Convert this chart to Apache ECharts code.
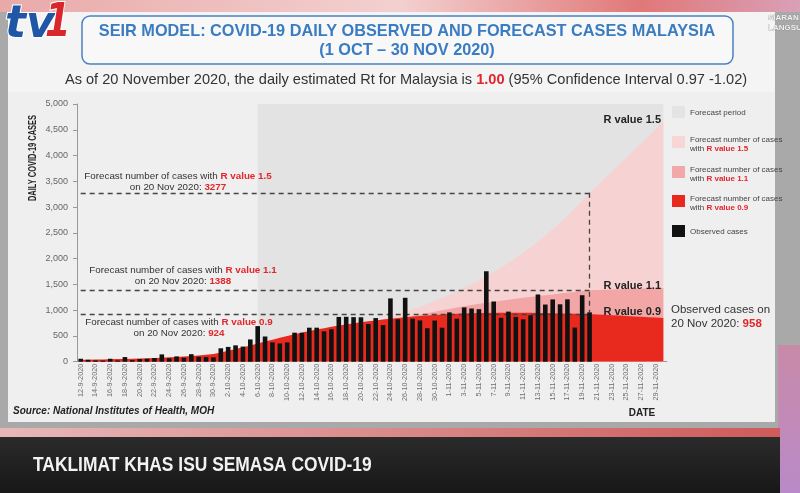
<!DOCTYPE html>
<html><head><meta charset="utf-8">
<script src="https://cdn.jsdelivr.net/npm/echarts@6/dist/echarts.min.js"></script>
<style>html,body{margin:0;padding:0;background:#fff}#c{width:800px;height:493px}</style>
</head><body><div id="c"></div>
<script>
// ---- categories (tick labels) ----
const dates = ['12-9-2020','13-9-2020','14-9-2020','15-9-2020','16-9-2020','17-9-2020','18-9-2020','19-9-2020','20-9-2020','21-9-2020','22-9-2020','23-9-2020','24-9-2020','25-9-2020','26-9-2020','27-9-2020','28-9-2020','29-9-2020','30-9-2020',
'1-10-2020','2-10-2020','3-10-2020','4-10-2020','5-10-2020','6-10-2020','7-10-2020','8-10-2020','9-10-2020','10-10-2020','11-10-2020','12-10-2020','13-10-2020','14-10-2020','15-10-2020','16-10-2020','17-10-2020','18-10-2020','19-10-2020','20-10-2020','21-10-2020','22-10-2020','23-10-2020','24-10-2020','25-10-2020','26-10-2020','27-10-2020','28-10-2020','29-10-2020','30-10-2020','31-10-2020',
'1-11-2020','2-11-2020','3-11-2020','4-11-2020','5-11-2020','6-11-2020','7-11-2020','8-11-2020','9-11-2020','10-11-2020','11-11-2020','12-11-2020','13-11-2020','14-11-2020','15-11-2020','16-11-2020','17-11-2020','18-11-2020','19-11-2020','20-11-2020','21-11-2020','22-11-2020','23-11-2020','24-11-2020','25-11-2020','26-11-2020','27-11-2020','28-11-2020','29-11-2020','30-11-2020'];

// ---- observed daily cases (12 Sep - 20 Nov) ----
const observed = [57,38,25,22,57,24,90,30,52,57,72,142,66,103,78,146,96,90,85,
260,287,317,293,432,691,489,375,354,374,563,561,660,660,589,629,869,871,865,862,732,847,710,1228,823,1240,835,801,649,799,659,
957,834,1054,1032,1019,1755,1168,852,972,869,822,900,1304,1109,1208,1114,1210,662,1290,958];

// ---- forecast R = 0.9 (whole range) ----
const r09 = [38,40,42,44,47,50,53,57,61,66,71,77,84,92,101,111,122,135,150,
180,212,245,280,315,352,390,428,465,500,533,565,595,624,651,677,701,724,745,765,783,800,817,833,848,862,875,887,898,908,917,
925,931,936,940,943,946,948,949,950,950,949,948,946,943,940,937,934,930,927,924,
917,910,902,894,886,878,870,863,856,850];

// ---- forecast R = 1.1 (from 26 Oct) ----
const r11Start = '26-10-2020';
const r11 = [862,885,912,940,968,996,1024,1050,1075,1099,1122,1144,1165,1185,1204,1222,1240,1257,1274,1290,1306,1322,1338,1354,1371,1388,
1393,1398,1403,1407,1411,1415,1419,1422,1425,1428];

// ---- forecast R = 1.5 (from 22 Oct) ----
const r15Start = '22-10-2020';
const r15 = [800,830,872,922,968,1016,1067,1120,1176,1235,1297,1362,1430,1501,1576,1655,1738,1825,1916,2012,2112,2218,2329,2445,2568,2696,2831,2972,3121,3277,
3412,3548,3685,3822,3960,4098,4237,4376,4515,4655];

// ---- reference values ----
const forecastStart = '6-10-2020';
const refDate = '20-11-2020';
const ref15 = 3277, ref11 = 1388, ref09 = 924, obsRef = 958;
const yTicks = {min:0, max:5000, interval:500};

function pad(start, vals){
  const i = dates.indexOf(start);
  return dates.map((d,k)=> k < i ? null : (k - i < vals.length ? vals[k-i] : null));
}

const RED = '#e2262b';
const F = '"Liberation Sans", Arial, sans-serif';

const chart = echarts.init(document.getElementById('c'), null, {renderer:'canvas'});

function annot(x, y, r, v){
  return {type:'text', x:x, y:y, z:50, style:{
    text:'Forecast number of cases with {r|R value '+r+'}\non 20 Nov 2020: {r|'+v+'}',
    fill:'#333', font:'9.8px '+F, align:'center', verticalAlign:'top', lineHeight:11,
    rich:{r:{fill:RED, fontWeight:'bold', fontSize:9.8, fontFamily:F, lineHeight:11}}
  }};
}
function legItem(y, color, l1, l2){
  const els = [{type:'rect', shape:{x:672, y:y, width:13, height:12}, style:{fill:color}, z:50}];
  els.push({type:'text', x:690, y:y+(l2?-1:2), z:50, style:{
    text: l2 ? l1 + '\nwith {r|' + l2 + '}' : l1,
    fill:'#444', font:'8px '+F, lineHeight:9,
    rich:{r:{fill:RED, fontWeight:'bold', fontSize:8, fontFamily:F, lineHeight:9}}
  }});
  return els;
}

const graphics = [
  // outer frame
  {type:'rect', shape:{x:0,y:0,width:800,height:493}, style:{fill:'#a9a9a9'}, z:-10},
  {type:'rect', shape:{x:0,y:0,width:800,height:12}, z:-9, style:{fill:new echarts.graphic.LinearGradient(0,0,1,0,[{offset:0,color:'#e9a9a9'},{offset:0.5,color:'#f3d0d0'},{offset:0.8,color:'#e07878'},{offset:1,color:'#d9a0b8'}])}},
  {type:'rect', shape:{x:8,y:12,width:767,height:410}, style:{fill:'#f4f4f4'}, z:-8},
  {type:'rect', shape:{x:8,y:92,width:767,height:330}, style:{fill:'#efefef'}, z:-8},
  {type:'rect', shape:{x:778,y:345,width:22,height:148}, z:-7, style:{fill:new echarts.graphic.LinearGradient(0,0,0,1,[{offset:0,color:'#c98aa8'},{offset:1,color:'#b98ac8'}])}},
  {type:'rect', shape:{x:0,y:428,width:780,height:9}, z:-6, style:{fill:new echarts.graphic.LinearGradient(0,0,1,0,[{offset:0,color:'#e8b8b8'},{offset:0.5,color:'#d98a8a'},{offset:1,color:'#cf5a5a'}])}},
  {type:'rect', shape:{x:0,y:437,width:780,height:56}, z:-6, style:{fill:new echarts.graphic.LinearGradient(0,0,0,1,[{offset:0,color:'#2b2b2b'},{offset:1,color:'#171717'}])}},
  {type:'text', x:33, y:465, scaleX:0.87, z:50, style:{text:'TAKLIMAT KHAS ISU SEMASA COVID-19', fill:'#f2f2f2', font:'bold 20px '+F, verticalAlign:'middle'}},
  {type:'text', x:768, y:13, z:50, style:{text:'SIARAN\nLANGSUNG', fill:'#f0f0f0', stroke:'#888', lineWidth:0.5, font:'bold 8px '+F, lineHeight:10}},
  // tv1 logo
  {type:'text', x:5, y:26, z:60, style:{text:'tv', fill:'#1f56a6', stroke:'#ffffff', lineWidth:2, font:'italic 900 44px "DejaVu Sans", sans-serif', verticalAlign:'middle'}},
  {type:'text', x:45, y:24, scaleX:0.8, z:60, style:{text:'1', fill:'#d8262c', stroke:'#ffffff', lineWidth:2, font:'italic 900 46px "DejaVu Sans", sans-serif', verticalAlign:'middle'}},
  // title box
  {type:'rect', shape:{x:82,y:16,width:651,height:48,r:8}, style:{fill:'#f8f8f8', stroke:'#4b80c0', lineWidth:1.5}, z:10},
  {type:'text', x:407, y:32, z:11, style:{text:'SEIR MODEL: COVID-19 DAILY OBSERVED AND FORECAST CASES MALAYSIA', fill:'#3a7cc2', font:'bold 16.3px '+F, align:'center', verticalAlign:'middle'}},
  {type:'text', x:407, y:51, z:11, style:{text:'(1 OCT \u2013 30 NOV 2020)', fill:'#3a7cc2', font:'bold 16.3px '+F, align:'center', verticalAlign:'middle'}},
  {type:'text', x:406, y:80, z:11, style:{text:'As of 20 November 2020, the daily estimated Rt for Malaysia is {r|1.00} (95% Confidence Interval 0.97 -1.02)', fill:'#333', font:'14.6px '+F, align:'center', verticalAlign:'middle', rich:{r:{fill:RED, fontWeight:'bold', fontSize:14.6, fontFamily:F}}}},
  // axis names
  {type:'text', x:33, y:158, rotation:Math.PI/2, scaleX:0.68, z:50, style:{text:'DAILY COVID-19 CASES', fill:'#222', font:'bold 11px '+F, align:'center', verticalAlign:'middle'}},
  {type:'text', x:642, y:413, z:50, style:{text:'DATE', fill:'#222', font:'bold 10px '+F, align:'center', verticalAlign:'middle'}},
  {type:'text', x:13, y:411, z:50, style:{text:'Source: National Institutes of Health, MOH', fill:'#222', font:'italic bold 10px '+F, verticalAlign:'middle'}},
  // annotations
  annot(178, 171, '1.5', ref15),
  annot(183, 265, '1.1', ref11),
  annot(179, 317, '0.9', ref09),
  {type:'text', x:661, y:120, z:50, style:{text:'R value 1.5', fill:'#222', font:'bold 11px '+F, align:'right', verticalAlign:'middle'}},
  {type:'text', x:661, y:286, z:50, style:{text:'R value 1.1', fill:'#222', font:'bold 11px '+F, align:'right', verticalAlign:'middle'}},
  {type:'text', x:661, y:312, z:50, style:{text:'R value 0.9', fill:'#222', font:'bold 11px '+F, align:'right', verticalAlign:'middle'}},
  {type:'text', x:671, y:303, z:50, style:{text:'Observed cases on\n20 Nov 2020: {r|'+obsRef+'}', fill:'#333', font:'11.5px '+F, lineHeight:14, rich:{r:{fill:RED, fontWeight:'bold', fontSize:11.5, fontFamily:F, lineHeight:14}}}}
].concat(
  legItem(106, '#e4e4e4', 'Forecast period'),
  legItem(136, '#f8d6d6', 'Forecast number of cases', 'R value 1.5'),
  legItem(166, '#f2a8a8', 'Forecast number of cases', 'R value 1.1'),
  legItem(195, '#e8291d', 'Forecast number of cases', 'R value 0.9'),
  legItem(225, '#111111', 'Observed cases')
);

const dash = {type:[5,4], color:'#444', width:1.3};
const option = {
  animation:false,
  backgroundColor:'#a9a9a9',
  grid:{left:77, top:104, width:590, height:257.7, containLabel:false},
  xAxis:{type:'category', data:dates, boundaryGap:true,
    axisLine:{lineStyle:{color:'#999'}}, axisTick:{show:false},
    axisLabel:{interval:1, rotate:90, fontSize:7.3, color:'#6f6f6f', margin:2, fontFamily:'Liberation Sans'}},
  yAxis:{type:'value', min:yTicks.min, max:yTicks.max, interval:yTicks.interval,
    axisLine:{show:true, lineStyle:{color:'#999'}}, axisTick:{show:true, length:4, lineStyle:{color:'#999'}},
    splitLine:{show:false},
    axisLabel:{fontSize:9, color:'#666', margin:9, fontFamily:'Liberation Sans', formatter:v=>v.toLocaleString('en-US')}},
  graphic:{elements:graphics},
  series:[
    {name:'R1.5', type:'line', data:pad(r15Start, r15), symbol:'none', silent:true, z:2,
      lineStyle:{width:0}, areaStyle:{color:'#f7d2d2', opacity:1},
      markArea:{silent:true, itemStyle:{color:'#e3e3e3'}, data:[[{xAxis:forecastStart, yAxis:yTicks.max},{xAxis:dates[dates.length-1], yAxis:0}]]}},
    {name:'R1.1', type:'line', data:pad(r11Start, r11), symbol:'none', silent:true, z:3,
      lineStyle:{width:0}, areaStyle:{color:'#f2a6a6', opacity:1}},
    {name:'R0.9', type:'line', data:r09, symbol:'none', silent:true, z:4,
      lineStyle:{width:0}, areaStyle:{color:'#e8291d', opacity:1}},
    {name:'Observed', type:'bar', data:observed, barWidth:4.6, silent:true, z:5,
      itemStyle:{color:'#111'},
      markLine:{silent:true, symbol:'none', label:{show:false}, lineStyle:dash, data:[
        [{coord:[dates[0], ref15]},{coord:[refDate, ref15]}],
        [{coord:[refDate, ref15]},{coord:[refDate, obsRef]}],
        [{coord:[dates[0], ref11]},{coord:[refDate, ref11]}],
        [{coord:[dates[0], ref09]},{coord:[refDate, ref09]}]
      ]}}
  ]
};
chart.setOption(option);
</script></body></html>
